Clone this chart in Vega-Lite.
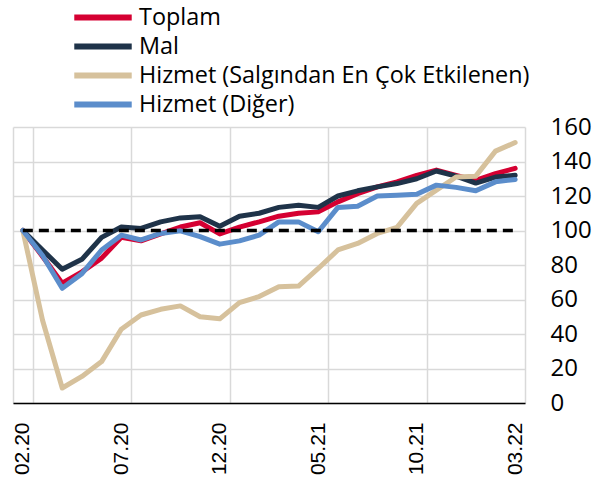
{
 "$schema": "https://vega.github.io/schema/vega-lite/v6.json",
 "width": 512, "height": 276,
 "autosize": {"type": "none"},
 "padding": {"left": 13, "top": 127, "right": 81, "bottom": 86},
 "config": {"view": {"stroke": null}, "font": "Open Sans"},
 "datasets": {
  "series": [
   {"month":"02.20","series":"Toplam","value":100},{"month":"03.20","series":"Toplam","value":85},{"month":"04.20","series":"Toplam","value":69.5},{"month":"05.20","series":"Toplam","value":76},{"month":"06.20","series":"Toplam","value":84},{"month":"07.20","series":"Toplam","value":96},{"month":"08.20","series":"Toplam","value":94},{"month":"09.20","series":"Toplam","value":98},{"month":"10.20","series":"Toplam","value":102},{"month":"11.20","series":"Toplam","value":104.5},{"month":"12.20","series":"Toplam","value":98},{"month":"01.21","series":"Toplam","value":102},{"month":"02.21","series":"Toplam","value":105},{"month":"03.21","series":"Toplam","value":108.3},{"month":"04.21","series":"Toplam","value":110},{"month":"05.21","series":"Toplam","value":110.8},{"month":"06.21","series":"Toplam","value":116.6},{"month":"07.21","series":"Toplam","value":121.4},{"month":"08.21","series":"Toplam","value":125.3},{"month":"09.21","series":"Toplam","value":128.2},{"month":"10.21","series":"Toplam","value":132},{"month":"11.21","series":"Toplam","value":135},{"month":"12.21","series":"Toplam","value":132},{"month":"01.22","series":"Toplam","value":129},{"month":"02.22","series":"Toplam","value":133},{"month":"03.22","series":"Toplam","value":136},
   {"month":"02.20","series":"Mal","value":100},{"month":"03.20","series":"Mal","value":88.7},{"month":"04.20","series":"Mal","value":77.5},{"month":"05.20","series":"Mal","value":83.3},{"month":"06.20","series":"Mal","value":96},{"month":"07.20","series":"Mal","value":102},{"month":"08.20","series":"Mal","value":101.2},{"month":"09.20","series":"Mal","value":105},{"month":"10.20","series":"Mal","value":107.3},{"month":"11.20","series":"Mal","value":108},{"month":"12.20","series":"Mal","value":102.5},{"month":"01.21","series":"Mal","value":108.3},{"month":"02.21","series":"Mal","value":110},{"month":"03.21","series":"Mal","value":113.4},{"month":"04.21","series":"Mal","value":114.7},{"month":"05.21","series":"Mal","value":113.4},{"month":"06.21","series":"Mal","value":120},{"month":"07.21","series":"Mal","value":123},{"month":"08.21","series":"Mal","value":125.3},{"month":"09.21","series":"Mal","value":127.2},{"month":"10.21","series":"Mal","value":130},{"month":"11.21","series":"Mal","value":134.5},{"month":"12.21","series":"Mal","value":131.5},{"month":"01.22","series":"Mal","value":127.5},{"month":"02.22","series":"Mal","value":131},{"month":"03.22","series":"Mal","value":132},
   {"month":"02.20","series":"Hizmet (Salgından En Çok Etkilenen)","value":100},{"month":"03.20","series":"Hizmet (Salgından En Çok Etkilenen)","value":48},{"month":"04.20","series":"Hizmet (Salgından En Çok Etkilenen)","value":8.7},{"month":"05.20","series":"Hizmet (Salgından En Çok Etkilenen)","value":15.4},{"month":"06.20","series":"Hizmet (Salgından En Çok Etkilenen)","value":24},{"month":"07.20","series":"Hizmet (Salgından En Çok Etkilenen)","value":42.8},{"month":"08.20","series":"Hizmet (Salgından En Çok Etkilenen)","value":51},{"month":"09.20","series":"Hizmet (Salgından En Çok Etkilenen)","value":54.3},{"month":"10.20","series":"Hizmet (Salgından En Çok Etkilenen)","value":56.3},{"month":"11.20","series":"Hizmet (Salgından En Çok Etkilenen)","value":50},{"month":"12.20","series":"Hizmet (Salgından En Çok Etkilenen)","value":48.8},{"month":"01.21","series":"Hizmet (Salgından En Çok Etkilenen)","value":58.2},{"month":"02.21","series":"Hizmet (Salgından En Çok Etkilenen)","value":61.7},{"month":"03.21","series":"Hizmet (Salgından En Çok Etkilenen)","value":67.4},{"month":"04.21","series":"Hizmet (Salgından En Çok Etkilenen)","value":67.8},{"month":"05.21","series":"Hizmet (Salgından En Çok Etkilenen)","value":78},{"month":"06.21","series":"Hizmet (Salgından En Çok Etkilenen)","value":88.7},{"month":"07.21","series":"Hizmet (Salgından En Çok Etkilenen)","value":92.5},{"month":"08.21","series":"Hizmet (Salgından En Çok Etkilenen)","value":98.3},{"month":"09.21","series":"Hizmet (Salgından En Çok Etkilenen)","value":101.8},{"month":"10.21","series":"Hizmet (Salgından En Çok Etkilenen)","value":115.7},{"month":"11.21","series":"Hizmet (Salgından En Çok Etkilenen)","value":123.4},{"month":"12.21","series":"Hizmet (Salgından En Çok Etkilenen)","value":131},{"month":"01.22","series":"Hizmet (Salgından En Çok Etkilenen)","value":131.5},{"month":"02.22","series":"Hizmet (Salgından En Çok Etkilenen)","value":146},{"month":"03.22","series":"Hizmet (Salgından En Çok Etkilenen)","value":151},
   {"month":"02.20","series":"Hizmet (Diğer)","value":100},{"month":"03.20","series":"Hizmet (Diğer)","value":85.5},{"month":"04.20","series":"Hizmet (Diğer)","value":66.5},{"month":"05.20","series":"Hizmet (Diğer)","value":75},{"month":"06.20","series":"Hizmet (Diğer)","value":88.7},{"month":"07.20","series":"Hizmet (Diğer)","value":97.3},{"month":"08.20","series":"Hizmet (Diğer)","value":94.5},{"month":"09.20","series":"Hizmet (Diğer)","value":98.3},{"month":"10.20","series":"Hizmet (Diğer)","value":99.8},{"month":"11.20","series":"Hizmet (Diğer)","value":96.4},{"month":"12.20","series":"Hizmet (Diğer)","value":92.1},{"month":"01.21","series":"Hizmet (Diğer)","value":94},{"month":"02.21","series":"Hizmet (Diğer)","value":97.3},{"month":"03.21","series":"Hizmet (Diğer)","value":105},{"month":"04.21","series":"Hizmet (Diğer)","value":105},{"month":"05.21","series":"Hizmet (Diğer)","value":99.3},{"month":"06.21","series":"Hizmet (Diğer)","value":113.4},{"month":"07.21","series":"Hizmet (Diğer)","value":114.1},{"month":"08.21","series":"Hizmet (Diğer)","value":120},{"month":"09.21","series":"Hizmet (Diğer)","value":120.5},{"month":"10.21","series":"Hizmet (Diğer)","value":121},{"month":"11.21","series":"Hizmet (Diğer)","value":126.3},{"month":"12.21","series":"Hizmet (Diğer)","value":125},{"month":"01.22","series":"Hizmet (Diğer)","value":123},{"month":"02.22","series":"Hizmet (Diğer)","value":128.2},{"month":"03.22","series":"Hizmet (Diğer)","value":129.6}
  ],
  "ref": [
   {"month":"02.20","value":100},{"month":"03.22","value":100}
  ]
 },
 "encoding": {
  "x": {"field": "month", "type": "ordinal", "bandPosition": 0.5,
   "scale": {"type": "band", "paddingInner": 0, "paddingOuter": 0,
    "domain": ["02.20","03.20","04.20","05.20","06.20","07.20","08.20","09.20","10.20","11.20","12.20","01.21","02.21","03.21","04.21","05.21","06.21","07.21","08.21","09.21","10.21","11.21","12.21","01.22","02.22","03.22"]},
   "axis": {"title": null, "values": ["02.20","07.20","12.20","05.21","10.21","03.22"], "tickBand": "extent",
    "grid": true, "gridColor": "#d9d9d9", "gridWidth": 1.5, "ticks": false,
    "domainColor": "#000000", "domainWidth": 1.5, "labelAngle": -90, "labelAlign": "right", "labelBaseline": "middle",
    "labelFont": "Liberation Sans", "labelFontSize": 21, "labelColor": "#000000", "labelPadding": 19}},
  "y": {"field": "value", "type": "quantitative", "scale": {"domain": [0, 160]},
   "axis": {"title": null, "orient": "right", "values": [0,20,40,60,80,100,120,140,160], "tickCount": 9, "labelOverlap": false,
    "grid": true, "gridColor": "#d9d9d9", "gridWidth": 1.5, "domain": false, "ticks": false,
    "labelFont": "Open Sans", "labelFontSize": 24, "labelColor": "#000000", "labelPadding": 25}}
 },
 "layer": [
  {
   "data": {"name": "series"},
   "mark": {"type": "line", "strokeWidth": 5, "strokeJoin": "round", "strokeCap": "round"},
   "encoding": {
    "color": {"field": "series", "type": "nominal",
     "scale": {"domain": ["Toplam","Mal","Hizmet (Salgından En Çok Etkilenen)","Hizmet (Diğer)"],
      "range": ["#D50032","#1F3349","#D6C19C","#5B8DCB"]},
     "legend": {"title": null, "orient": "none", "legendX": 58, "legendY": -124, "padding": 0,
      "symbolType": "stroke", "symbolSize": 3300, "symbolStrokeWidth": 6, "clipHeight": 29,
      "labelFont": "Open Sans", "labelFontSize": 23.4, "labelColor": "#000000", "labelLimit": 0,
      "rowPadding": 0, "labelOffset": 4}}
   }
  },
  {
   "data": {"name": "ref"},
   "mark": {"type": "line", "strokeDash": [10, 6], "strokeWidth": 3.5, "color": "#000000"}
  }
 ]
}
